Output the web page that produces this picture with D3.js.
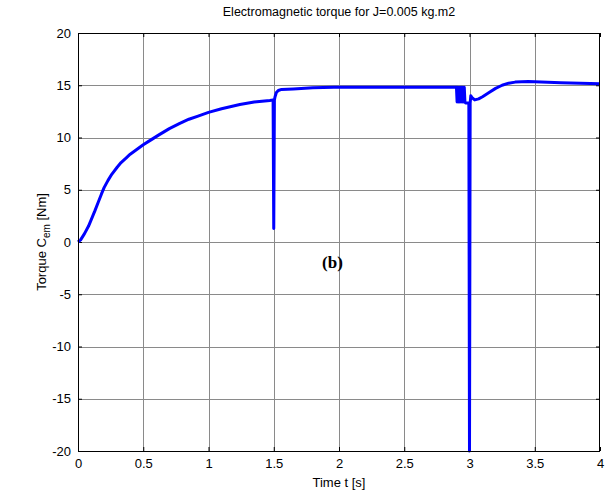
<!DOCTYPE html>
<html>
<head>
<meta charset="utf-8">
<script src="https://cdn.jsdelivr.net/npm/d3@7"></script>
<style>
  html, body { margin: 0; padding: 0; background: #fff; }
  svg { display: block; font-family: "Liberation Sans", Arial, sans-serif; }
</style>
</head>
<body>
<svg id="chart" width="609" height="497"></svg>
<script>
// Electromagnetic torque response, J = 0.005 kg.m2
const timeS = [
  0, 0.02, 0.05, 0.08, 0.10, 0.13, 0.155, 0.18, 0.20, 0.23, 0.26, 0.30, 0.33, 0.37, 0.40,
  0.45, 0.50, 0.55, 0.62, 0.70, 0.78, 0.85, 0.92, 1.00, 1.10, 1.24, 1.35, 1.47, 1.495,
  1.50, 1.505, 1.51, 1.52, 1.535, 1.56, 1.65, 1.80, 1.96, 2.20, 2.50, 2.70, 2.90,
  2.905, 2.91, 2.915, 2.92, 2.925, 2.93, 2.935, 2.94, 2.945, 2.95, 2.955, 2.96, 2.965,
  2.97, 2.98, 2.99, 2.995, 3.00, 3.005, 3.01, 3.02, 3.04, 3.07, 3.10, 3.15, 3.20, 3.25,
  3.30, 3.35, 3.45, 3.55, 3.70, 3.85, 4.00
];
const torqueNm = [
  0, 0.2, 0.8, 1.5, 2.1, 3.0, 3.8, 4.6, 5.2, 5.9, 6.5, 7.15, 7.6, 8.05, 8.4,
  8.85, 9.3, 9.7, 10.25, 10.85, 11.35, 11.75, 12.05, 12.4, 12.75, 13.15, 13.4, 13.55, 13.6,
  1.3, 13.6, 13.9, 14.3, 14.5, 14.6, 14.65, 14.75, 14.8, 14.8, 14.8, 14.8, 14.8,
  13.4, 14.8, 13.4, 14.8, 13.4, 14.8, 13.4, 14.8, 13.4, 14.8, 13.4, 14.8, 13.4,
  13.3, 13.3, 13.3, 13.3, -20, 13.3, 14.0, 13.8, 13.6, 13.7, 13.9, 14.3, 14.7, 15.0,
  15.2, 15.3, 15.35, 15.3, 15.25, 15.2, 15.15
];
const xTicks = [0, 0.5, 1, 1.5, 2, 2.5, 3, 3.5, 4];
const yTicks = [-20, -15, -10, -5, 0, 5, 10, 15, 20];

const svg = d3.select("#chart");
const m = { left: 78, right: 600, top: 33, bottom: 451 };

const x = d3.scaleLinear().domain([0, 4]).range([m.left, m.right]);
const y = d3.scaleLinear().domain([-20, 20]).range([m.bottom, m.top]);

// grid
const grid = svg.append("g");
grid.selectAll(".gx").data(xTicks.slice(1, -1)).join("line")
  .attr("x1", d => Math.round(x(d)) + 0.5).attr("x2", d => Math.round(x(d)) + 0.5)
  .attr("y1", m.top).attr("y2", m.bottom)
  .attr("stroke", "#8a8a8a").attr("stroke-width", 1);
grid.selectAll(".gy").data(yTicks.slice(1, -1)).join("line")
  .attr("y1", d => Math.round(y(d)) + 0.5).attr("y2", d => Math.round(y(d)) + 0.5)
  .attr("x1", m.left).attr("x2", m.right)
  .attr("stroke", "#8a8a8a").attr("stroke-width", 1);

// axes with inward ticks; labels use a plain hyphen for negatives
const tickLen = 4;
const fmt = d => String(d);
const xAxisB = d3.axisBottom(x).tickValues(xTicks).tickSizeInner(-tickLen).tickSizeOuter(0).tickPadding(8)
  .tickFormat(fmt);
const xAxisT = d3.axisTop(x).tickValues(xTicks).tickSizeInner(-tickLen).tickSizeOuter(0).tickFormat("");
const yAxisL = d3.axisLeft(y).tickValues(yTicks).tickSizeInner(-tickLen).tickSizeOuter(0).tickPadding(7)
  .tickFormat(fmt);
const yAxisR = d3.axisRight(y).tickValues(yTicks).tickSizeInner(-tickLen).tickSizeOuter(0).tickFormat("");

function style(g) {
  g.select(".domain").remove();
  g.selectAll("line").attr("stroke", "#000");
  g.selectAll("text").attr("font-size", 13).attr("fill", "#000")
    .attr("font-family", "Liberation Sans, Arial, sans-serif");
}
svg.append("g").attr("transform", `translate(0,${m.bottom})`).call(xAxisB).call(style);
svg.append("g").attr("transform", `translate(0,${m.top})`).call(xAxisT).call(style);
svg.append("g").attr("transform", `translate(${m.left},0)`).call(yAxisL).call(style);
svg.append("g").attr("transform", `translate(${m.right},0)`).call(yAxisR).call(style);

// torque curve
const pts = timeS.map((t, i) => [t, torqueNm[i]]);
svg.append("path").datum(pts)
  .attr("fill", "none").attr("stroke", "#0000ff").attr("stroke-width", 3)
  .attr("stroke-linejoin", "round")
  .attr("d", d3.line().x(d => x(d[0])).y(d => y(d[1])));

// frame
svg.append("rect").attr("x", m.left + 0.5).attr("y", m.top + 0.5)
  .attr("width", m.right - m.left - 1).attr("height", m.bottom - m.top)
  .attr("fill", "none").attr("stroke", "#000").attr("stroke-width", 1);

// texts
svg.append("text").attr("x", (m.left + m.right) / 2).attr("y", 16)
  .attr("text-anchor", "middle").attr("font-size", 12.5).text("Electromagnetic torque for J=0.005 kg.m2");
svg.append("text").attr("x", (m.left + m.right) / 2).attr("y", 487)
  .attr("text-anchor", "middle").attr("font-size", 13).text("Time t [s]");

const yl = svg.append("text")
  .attr("transform", `translate(46,${(m.top + m.bottom) / 2}) rotate(-90)`)
  .attr("text-anchor", "middle").attr("font-size", 13);
yl.append("tspan").text("Torque C");
yl.append("tspan").attr("font-size", 10).attr("dy", 4).text("em");
yl.append("tspan").attr("dy", -4).text(" [Nm]");

svg.append("text").attr("x", x(1.95)).attr("y", y(-2.5))
  .attr("text-anchor", "middle").attr("font-size", 17).attr("font-weight", "bold")
  .attr("font-family", "Liberation Serif, 'Times New Roman', serif").text("(b)");
</script>
</body>
</html>
